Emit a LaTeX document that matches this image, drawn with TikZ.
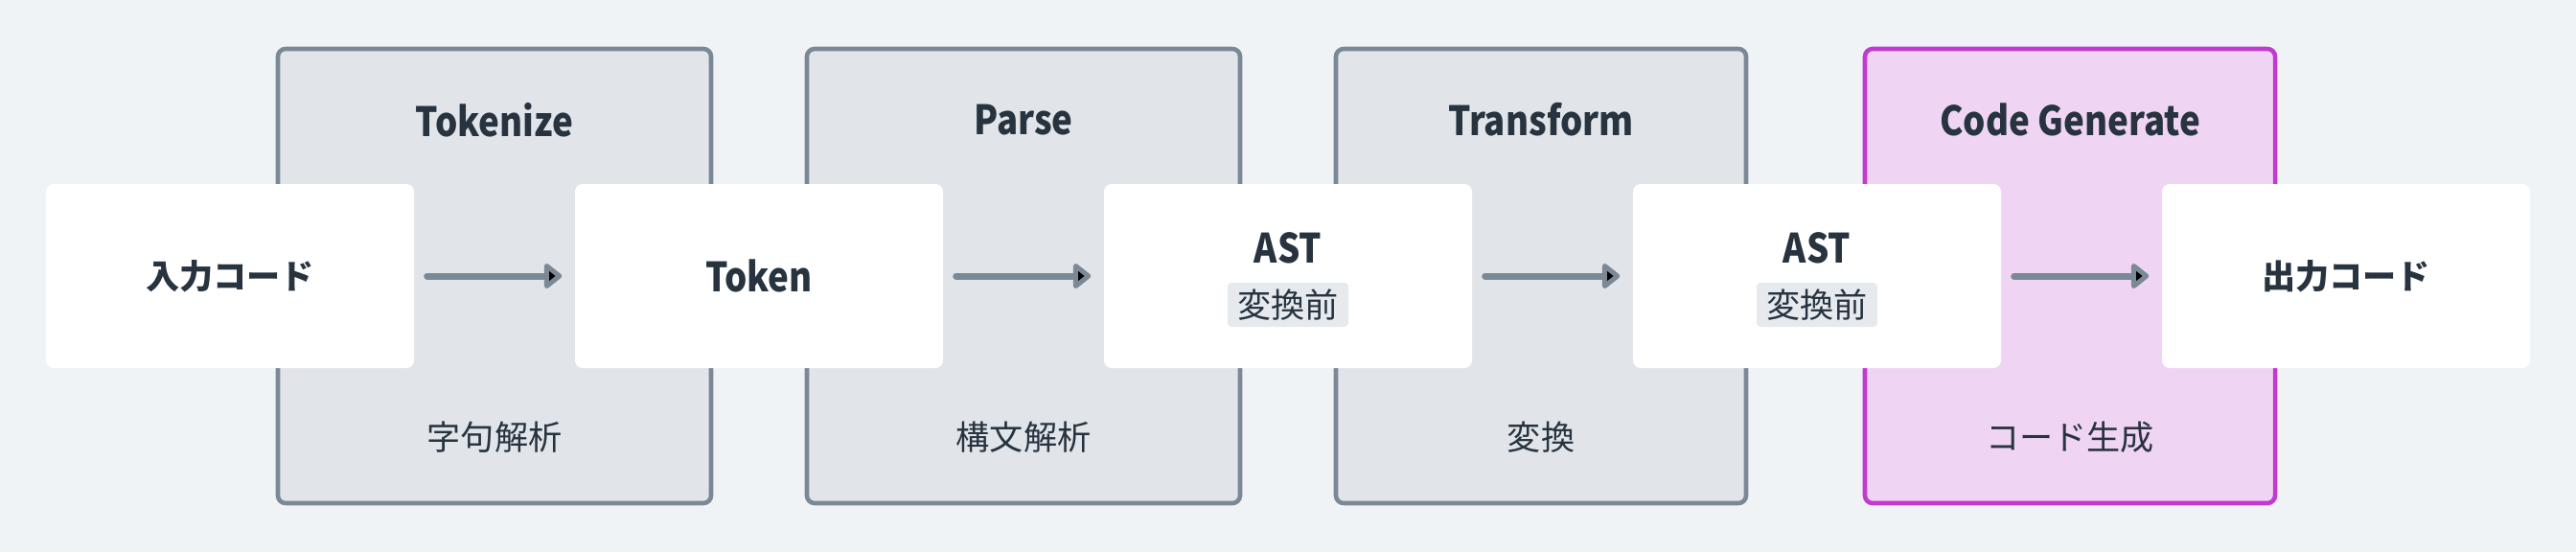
\documentclass[tikz,border=0pt]{standalone}
\usepackage{fontspec}
\setmainfont{Noto Sans CJK JP}
\newfontfamily\narrowfont{Noto Sans CJK JP}[FakeStretch=0.87]
\usepackage{xcolor}
\usetikzlibrary{arrows.meta}

\definecolor{bg}{HTML}{F0F3F6}
\definecolor{ink}{HTML}{27333F}
\definecolor{phasefill}{HTML}{E1E5E9}
\definecolor{phaseline}{HTML}{7B8896}
\definecolor{genfill}{HTML}{F0D4F3}
\definecolor{genline}{HTML}{C13BD0}
\definecolor{tagfill}{HTML}{E6EAEE}
\definecolor{arrowc}{HTML}{7B8896}

\begin{document}
\begin{tikzpicture}[
	phasebox/.style={draw=phaseline, fill=phasefill, line width=1.3pt,
		rounded corners=0.08cm, minimum height=4.74cm},
	stagebox/.style={fill=white, rounded corners=0.08cm,
		minimum width=3.84cm, minimum height=1.92cm},
	title/.style={text=ink, font=\narrowfont\bfseries\fontsize{12}{14}\selectfont},
	jptitle/.style={text=ink, font=\bfseries\fontsize{10}{12}\selectfont},
	sub/.style={text=ink, font=\fontsize{10}{12}\selectfont},
	tag/.style={sub, fill=tagfill, rounded corners=0.04cm, inner sep=0pt,
		minimum width=1.26cm, minimum height=0.46cm},
	flow/.style={draw=arrowc, line width=0.07cm, line cap=round,
		-{Triangle[length=0.2cm,width=0.3cm,round]},
		shorten <=0.13cm, shorten >=0.13cm}
]
	\fill[bg] (0,0) rectangle (26.88,5.76);
	\useasboundingbox (0,0) rectangle (26.88,5.76);
	% phases
	\node[phasebox, minimum width=4.52cm] (T) at (5.16,2.88) {};
	\node[phasebox, minimum width=4.52cm] (P) at (10.68,2.88) {};
	\node[phasebox, minimum width=4.28cm] (X) at (16.08,2.88) {};
	\node[phasebox, minimum width=4.28cm, draw=genline, fill=genfill] (G) at (21.60,2.88) {};
	\node[title] (T1) at (5.16,4.51) {Tokenize};
	\node[title] (P1) at (10.68,4.51) {Parse};
	\node[title] (X1) at (16.08,4.51) {Transform};
	\node[title] (G1) at (21.60,4.51) {Code Generate};
	\node[sub] (T2) at (5.16,1.20) {字句解析};
	\node[sub] (P2) at (10.68,1.20) {構文解析};
	\node[sub] (X2) at (16.08,1.20) {変換};
	\node[sub] (G2) at (21.60,1.20) {コード生成};
	%
	\node[stagebox, jptitle] (in) at (2.40,2.88) {入力コード};
	\node[stagebox, title] (tok) at (7.92,2.88) {Token};
	\node[stagebox] (ast) at (13.44,2.88) {};
	\node[stagebox] (ast') at (18.96,2.88) {};
	\node[stagebox, jptitle] (out) at (24.48,2.88) {出力コード};
	\node[title] (astA) at (13.44,3.17) {AST};
	\node[tag] (astB) at (13.44,2.58) {変換前};
	\node[title] (ast'A) at (18.96,3.17) {AST};
	\node[tag] (ast'B) at (18.96,2.58) {変換前};
	%
	\path[flow]
		(in) edge (tok)
		(tok) edge (ast)
		(ast) edge (ast')
		(ast') edge (out);
\end{tikzpicture}
\end{document}
